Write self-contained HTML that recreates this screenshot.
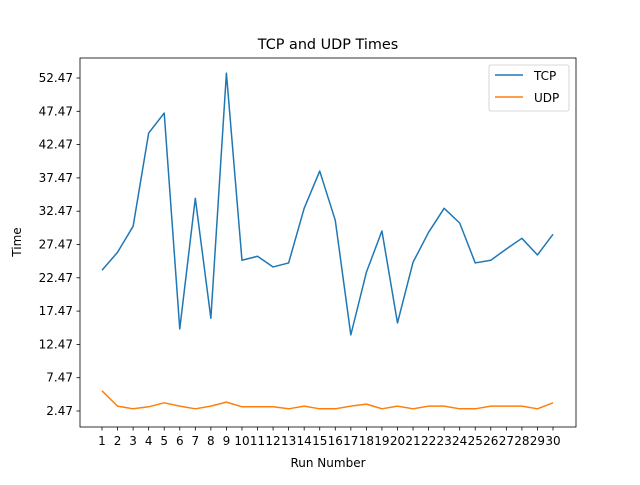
<!DOCTYPE html>
<html><head><meta charset="utf-8"><style>
body{margin:0;background:#fff;font-family:"Liberation Sans","DejaVu Sans",sans-serif}
svg text{font-family:"DejaVu Sans","Liberation Sans",sans-serif;fill:#000}
</style></head><body>
<svg id="chart" width="640" height="480" xmlns="http://www.w3.org/2000/svg">
<rect width="640" height="480" fill="#fff"/>
<text x="328" y="49" font-size="14.4" text-anchor="middle">TCP and UDP Times</text>
<g id="grid"></g>
<g id="series"></g>
<rect x="80" y="58" width="496" height="369" fill="none" stroke="#000" stroke-width="0.8"/>
<text x="328" y="467" font-size="12" text-anchor="middle">Run Number</text>
<text x="21" y="242" font-size="12" text-anchor="middle" transform="rotate(-90 21 242)">Time</text>
<g>
<rect x="489" y="65" width="80" height="46" rx="2" fill="#fff" stroke="#ccc" stroke-width="0.8"/>
<line x1="495" y1="75" x2="523" y2="75" stroke="#1f77b4" stroke-width="1.5"/>
<text x="534" y="80" font-size="12">TCP</text>
<line x1="495" y1="97" x2="523" y2="97" stroke="#ff7f0e" stroke-width="1.5"/>
<text x="534" y="102" font-size="12">UDP</text>
</g>
</svg>
<script>
const runs=[1,2,3,4,5,6,7,8,9,10,11,12,13,14,15,16,17,18,19,20,21,22,23,24,25,26,27,28,29,30];
const tcp=[23.6,26.3,30.2,44.2,47.2,14.8,34.4,16.4,53.2,25.1,25.7,24.1,24.7,32.9,38.5,31.1,13.9,23.3,29.5,15.7,24.8,29.3,32.9,30.7,24.7,25.1,26.8,28.4,25.9,29.0];
const udp=[5.5,3.2,2.8,3.1,3.7,3.2,2.8,3.2,3.8,3.1,3.1,3.1,2.8,3.2,2.8,2.8,3.2,3.5,2.8,3.2,2.8,3.2,3.2,2.8,2.8,3.2,3.2,3.2,2.8,3.7];
const yTicks=[2.47,7.47,12.47,17.47,22.47,27.47,32.47,37.47,42.47,47.47,52.47];
const NS="http://www.w3.org/2000/svg";
function X(r){return 102+(r-1)*(451/29);}
function Y(v){return 411-(v-2.47)*(333/50);}
const g=document.getElementById('grid'),s=document.getElementById('series');
function mk(tag,attrs,parent){const e=document.createElementNS(NS,tag);for(const k in attrs)e.setAttribute(k,attrs[k]);parent.appendChild(e);return e;}
yTicks.forEach(v=>{
 const t=mk('line',{x1:76.5,x2:80,y1:Y(v),y2:Y(v),stroke:'#000','stroke-width':0.8},g);
 
 
 const l=mk('text',{x:73,y:Y(v)+4,'font-size':12,'text-anchor':'end'},g);l.textContent=v.toFixed(2);
 
 
});
runs.forEach(r=>{
 const t=mk('line',{x1:X(r),x2:X(r),y1:427,y2:430.5,stroke:'#000','stroke-width':0.8},g);
 
 
 const l=mk('text',{x:X(r),y:445,'font-size':12,'text-anchor':'middle'},g);l.textContent=r;
 
 
});
function line(data,color,name){
 const p=mk('polyline',{points:data.map((v,i)=>X(runs[i])+','+Y(v)).join(' '),fill:'none',stroke:color,'stroke-width':1.5,'stroke-linejoin':'round'},s);
 
 
}
line(tcp,'#1f77b4','tcp-line');
line(udp,'#ff7f0e','udp-line');
</script>
</body></html>
